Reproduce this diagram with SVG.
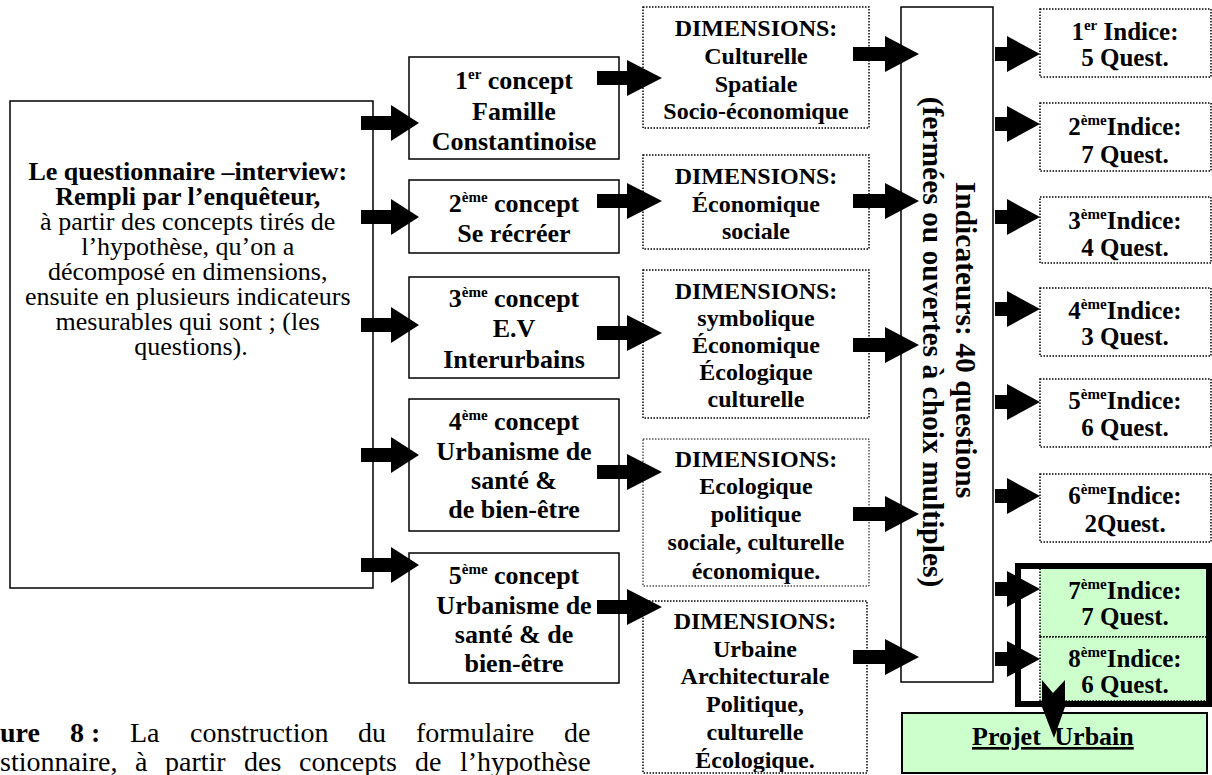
<svg xmlns="http://www.w3.org/2000/svg" width="1212" height="775" viewBox="0 0 1212 775">
<style>
text{font-family:'Liberation Serif','Times New Roman',serif;fill:#000}
.b{font-weight:bold}
.box{fill:#fff;stroke:#000;stroke-width:1.5}
.dot{fill:#fff;stroke:#000;stroke-width:1.5;stroke-dasharray:1.5 1.5}
.dotg{fill:#ccffcc;stroke:#000;stroke-width:1.5;stroke-dasharray:1.5 1.5}
.arrow{fill:#000;stroke:none}
.t26{font-size:26px}
.t24{font-size:24px}
.t25{font-size:25px}
.t28{font-size:28px}
.tv{font-size:29.5px}
.sup{font-size:15px}
</style>
<defs>
<clipPath id="clip4"><rect x="643" y="439" width="226" height="145"/></clipPath>
<clipPath id="clip5"><rect x="643" y="601" width="224" height="171"/></clipPath>
</defs>

<g id="questionnaire">
<rect class="box" x="10" y="101" width="363" height="487"/>
<text class="t26" text-anchor="middle">
<tspan class="b" x="191" y="180">Le questionnaire –interview:</tspan>
<tspan class="b" x="191" y="205">Rempli par l’enquêteur,</tspan>
<tspan x="191" y="230">à partir des concepts tirés de</tspan>
<tspan x="191" y="255">l’hypothèse, qu’on a</tspan>
<tspan x="191" y="280">décomposé en dimensions,</tspan>
<tspan x="191" y="305">ensuite en plusieurs indicateurs</tspan>
<tspan x="191" y="330">mesurables qui sont ; (les</tspan>
<tspan x="191" y="355">questions).</tspan>
</text>
</g>

<g id="concept1">
<rect class="box" x="409" y="57" width="210" height="102"/>
<text class="t26 b" text-anchor="middle" x="514" y="89">1<tspan class="sup" dy="-10">er</tspan><tspan dy="10"> concept</tspan></text>
<text class="t26 b" text-anchor="middle" x="514" y="120">Famille</text>
<text class="t26 b" text-anchor="middle" x="514" y="150">Constantinoise</text>
</g>
<g id="concept2">
<rect class="box" x="409" y="180" width="210" height="73"/>
<text class="t26 b" text-anchor="middle" x="514" y="212">2<tspan class="sup" dy="-10">ème</tspan><tspan dy="10"> concept</tspan></text>
<text class="t26 b" text-anchor="middle" x="514" y="242">Se récréer</text>
</g>
<g id="concept3">
<rect class="box" x="409" y="277" width="210" height="101"/>
<text class="t26 b" text-anchor="middle" x="514" y="307">3<tspan class="sup" dy="-10">ème</tspan><tspan dy="10"> concept</tspan></text>
<text class="t26 b" text-anchor="middle" x="514" y="337">E.V</text>
<text class="t26 b" text-anchor="middle" x="514" y="368">Interurbains</text>
</g>
<g id="concept4">
<rect class="box" x="409" y="399" width="210" height="132"/>
<text class="t26 b" text-anchor="middle" x="514" y="430">4<tspan class="sup" dy="-10">ème</tspan><tspan dy="10"> concept</tspan></text>
<text class="t26 b" text-anchor="middle" x="514" y="460">Urbanisme de</text>
<text class="t26 b" text-anchor="middle" x="514" y="489">santé &amp;</text>
<text class="t26 b" text-anchor="middle" x="514" y="518">de bien-être</text>
</g>
<g id="concept5">
<rect class="box" x="409" y="553" width="210" height="130"/>
<text class="t26 b" text-anchor="middle" x="514" y="584">5<tspan class="sup" dy="-10">ème</tspan><tspan dy="10"> concept</tspan></text>
<text class="t26 b" text-anchor="middle" x="514" y="614">Urbanisme de</text>
<text class="t26 b" text-anchor="middle" x="514" y="643">santé  &amp; de</text>
<text class="t26 b" text-anchor="middle" x="514" y="672">bien-être</text>
</g>

<g id="dim1">
<rect class="dot" x="643" y="7" width="226" height="121"/>
<text class="t24 b" text-anchor="middle"><tspan x="756" y="36">DIMENSIONS:</tspan><tspan x="756" y="64">Culturelle</tspan><tspan x="756" y="92">Spatiale</tspan><tspan x="756" y="119">Socio-économique</tspan></text>
</g>
<g id="dim2">
<rect class="dot" x="643" y="155" width="226" height="94"/>
<text class="t24 b" text-anchor="middle"><tspan x="756" y="184">DIMENSIONS:</tspan><tspan x="756" y="212">Économique</tspan><tspan x="756" y="239">sociale</tspan></text>
</g>
<g id="dim3">
<rect class="dot" x="643" y="270" width="226" height="148"/>
<text class="t24 b" text-anchor="middle"><tspan x="756" y="299">DIMENSIONS:</tspan><tspan x="756" y="326">symbolique</tspan><tspan x="756" y="353">Économique</tspan><tspan x="756" y="380">Écologique</tspan><tspan x="756" y="407">culturelle</tspan></text>
</g>
<g id="dim4">
<rect class="dot" x="643" y="439" width="226" height="147" style="stroke-width:1"/>
<text class="t24 b" text-anchor="middle" clip-path="url(#clip4)"><tspan x="756" y="467">DIMENSIONS:</tspan><tspan x="756" y="494">Ecologique</tspan><tspan x="756" y="522">politique</tspan><tspan x="756" y="550">sociale, culturelle</tspan><tspan x="756" y="579">économique.</tspan></text>
</g>
<g id="dim5">
<rect class="dot" x="643" y="601" width="224" height="172"/>
<text class="t24 b" text-anchor="middle" clip-path="url(#clip5)"><tspan x="755" y="629">DIMENSIONS:</tspan><tspan x="755" y="657">Urbaine</tspan><tspan x="755" y="684">Architecturale</tspan><tspan x="755" y="712">Politique,</tspan><tspan x="755" y="740">culturelle</tspan><tspan x="755" y="768">Écologique.</tspan></text>
</g>

<g id="indicateurs">
<rect class="box" x="901" y="7" width="92" height="675"/>
<text class="tv b" text-anchor="middle" transform="translate(956,340) rotate(90)">Indicateurs: 40 questions</text>
<text class="tv b" text-anchor="middle" transform="translate(923,342) rotate(90)">(fermées ou ouvertes à choix multiples)</text>
</g>

<g id="indice1">
<rect class="dot" x="1040" y="9" width="171" height="68"/>
<text class="t25 b" text-anchor="middle" x="1125" y="40">1<tspan class="sup" dy="-10">er</tspan><tspan dy="10"> Indice:</tspan></text>
<text class="t25 b" text-anchor="middle" x="1125" y="66">5 Quest.</text>
</g>
<g id="indice2">
<rect class="dot" x="1040" y="103" width="171" height="68"/>
<text class="t25 b" text-anchor="middle" x="1125" y="135">2<tspan class="sup" dy="-10">ème</tspan><tspan dy="10">Indice:</tspan></text>
<text class="t25 b" text-anchor="middle" x="1125" y="163">7 Quest.</text>
</g>
<g id="indice3">
<rect class="dot" x="1040" y="197" width="171" height="66"/>
<text class="t25 b" text-anchor="middle" x="1125" y="229">3<tspan class="sup" dy="-10">ème</tspan><tspan dy="10">Indice:</tspan></text>
<text class="t25 b" text-anchor="middle" x="1125" y="256">4 Quest.</text>
</g>
<g id="indice4">
<rect class="dot" x="1040" y="288" width="171" height="68"/>
<text class="t25 b" text-anchor="middle" x="1125" y="319">4<tspan class="sup" dy="-10">ème</tspan><tspan dy="10">Indice:</tspan></text>
<text class="t25 b" text-anchor="middle" x="1125" y="345">3 Quest.</text>
</g>
<g id="indice5">
<rect class="dot" x="1040" y="379" width="171" height="68"/>
<text class="t25 b" text-anchor="middle" x="1125" y="409">5<tspan class="sup" dy="-10">ème</tspan><tspan dy="10">Indice:</tspan></text>
<text class="t25 b" text-anchor="middle" x="1125" y="436">6 Quest.</text>
</g>
<g id="indice6">
<rect class="dot" x="1040" y="474" width="171" height="68"/>
<text class="t25 b" text-anchor="middle" x="1125" y="504">6<tspan class="sup" dy="-10">ème</tspan><tspan dy="10">Indice:</tspan></text>
<text class="t25 b" text-anchor="middle" x="1125" y="532">2Quest.</text>
</g>
<g id="indice7">
<rect class="dotg" x="1040" y="568" width="169" height="69"/>
<text class="t25 b" text-anchor="middle" x="1125" y="599">7<tspan class="sup" dy="-10">ème</tspan><tspan dy="10">Indice:</tspan></text>
<text class="t25 b" text-anchor="middle" x="1125" y="625">7 Quest.</text>
</g>
<g id="indice8">
<rect class="dotg" x="1040" y="637" width="169" height="64"/>
<text class="t25 b" text-anchor="middle" x="1125" y="667">8<tspan class="sup" dy="-10">ème</tspan><tspan dy="10">Indice:</tspan></text>
<text class="t25 b" text-anchor="middle" x="1125" y="693">6 Quest.</text>
</g>
<g id="groupe78">
<rect x="1018" y="566" width="191" height="138" fill="none" stroke="#000" stroke-width="6"/>
</g>

<g id="projet">
<rect x="902" y="713" width="305" height="60" fill="#ccffcc" stroke="#000" stroke-width="2"/>
<text class="t26 b" x="972" y="745" text-decoration="underline" word-spacing="7">Projet Urbain</text>
</g>

<g id="connectors">
<polygon class="arrow" points="361,116 391,116 391,105 419,123 391,141 391,130 361,130"/>
<polygon class="arrow" points="361,210 391,210 391,199 419,217 391,235 391,224 361,224"/>
<polygon class="arrow" points="361,318 391,318 391,307 419,325 391,343 391,332 361,332"/>
<polygon class="arrow" points="361,448 391,448 391,437 419,455 391,473 391,462 361,462"/>
<polygon class="arrow" points="361,558 391,558 391,547 419,565 391,583 391,572 361,572"/>
<polygon class="arrow" points="597,71 627,71 627,60 662,78 627,96 627,85 597,85"/>
<polygon class="arrow" points="597,194 627,194 627,183 662,201 627,219 627,208 597,208"/>
<polygon class="arrow" points="597,326 627,326 627,315 662,333 627,351 627,340 597,340"/>
<polygon class="arrow" points="597,465 627,465 627,454 662,472 627,490 627,479 597,479"/>
<polygon class="arrow" points="597,600 627,600 627,589 662,607 627,625 627,614 597,614"/>
<polygon class="arrow" points="853,47 885,47 885,36 919,54 885,72 885,61 853,61"/>
<polygon class="arrow" points="853,194 885,194 885,183 919,201 885,219 885,208 853,208"/>
<polygon class="arrow" points="853,338 885,338 885,327 919,345 885,363 885,352 853,352"/>
<polygon class="arrow" points="853,507 885,507 885,496 919,514 885,532 885,521 853,521"/>
<polygon class="arrow" points="853,650 885,650 885,639 919,657 885,675 885,664 853,664"/>
<polygon class="arrow" points="995,47 1007,47 1007,36 1040,54 1007,72 1007,61 995,61"/>
<polygon class="arrow" points="995,117 1007,117 1007,106 1040,124 1007,142 1007,131 995,131"/>
<polygon class="arrow" points="995,210 1007,210 1007,199 1040,217 1007,235 1007,224 995,224"/>
<polygon class="arrow" points="995,302 1007,302 1007,291 1040,309 1007,327 1007,316 995,316"/>
<polygon class="arrow" points="995,395 1007,395 1007,384 1040,402 1007,420 1007,409 995,409"/>
<polygon class="arrow" points="995,489 1007,489 1007,478 1040,496 1007,514 1007,503 995,503"/>
<polygon class="arrow" points="995,582 1007,582 1007,571 1040,589 1007,607 1007,596 995,596"/>
<polygon class="arrow" points="995,652 1007,652 1007,641 1040,659 1007,677 1007,666 995,666"/>
<polygon class="arrow" points="1042,680 1053,693 1065,680 1065,707 1054,738 1042,707"/>
</g>

<g id="caption">
<text class="t28" y="742"><tspan class="b" x="0">ure</tspan><tspan class="b" x="70">8 :</tspan><tspan x="130">La</tspan><tspan x="190">construction</tspan><tspan x="358">du</tspan><tspan x="416">formulaire</tspan><tspan x="564">de</tspan></text>
<text class="t28" y="771"><tspan x="0">stionnaire,</tspan><tspan x="135">à</tspan><tspan x="165">partir</tspan><tspan x="244">des</tspan><tspan x="299">concepts</tspan><tspan x="415">de</tspan><tspan x="460">l’hypothèse</tspan></text>
</g>
</svg>
